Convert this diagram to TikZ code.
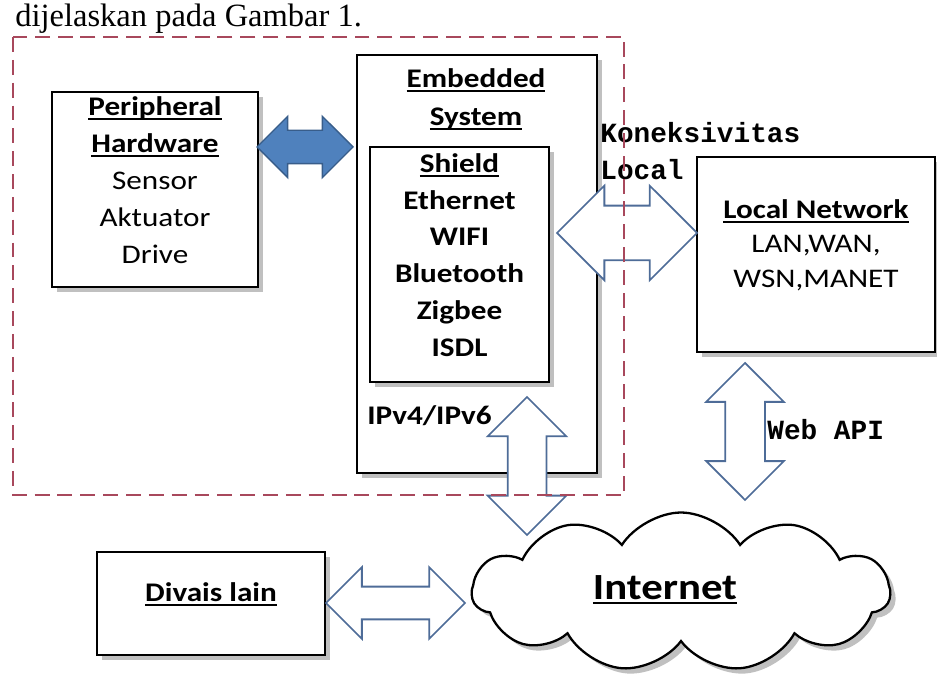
\documentclass[tikz,border=0pt]{standalone}
\usepackage{fontspec}
\setmainfont{Carlito}[FakeStretch=1.16]
\newfontfamily\codefont{Liberation Mono}
\newfontfamily\bodyfont{Liberation Serif}
\usetikzlibrary{positioning,fit,calc,shadows,shapes.symbols,shapes.arrows}

\definecolor{linkblue}{RGB}{79,129,189}
\definecolor{linkedge}{RGB}{56,93,138}
\definecolor{hollowedge}{RGB}{78,108,152}
\definecolor{groupred}{RGB}{168,72,92}

\newsavebox\undlbox
\newcommand{\undl}[1]{\sbox\undlbox{#1}\leavevmode\rlap{\rule[-2.6pt]{\wd\undlbox}{1.1pt}}\usebox\undlbox}

\newcommand{\linkarrow}[4]{%
  \path let \p1=(#3), \p2=(#4), \n1={veclen(\x2-\x1,\y2-\y1)} in
    node[#1, minimum height=\n1, rotate={atan2(\y2-\y1,\x2-\x1)}] (#2) at ($(\p1)!.5!(\p2)$) {};}

\tikzset{
  box/.style={draw=black, line width=1.3pt, fill=white, inner sep=0pt,
    drop shadow={shadow xshift=3pt, shadow yshift=-3pt, fill=black!45, opacity=.55}},
  boxtext/.style={font=\fontsize{15.3}{21}\selectfont, align=center},
  codetext/.style={font=\codefont\bfseries\fontsize{15.8}{21}\selectfont, inner sep=0pt, align=left},
  solidlink/.style={double arrow, draw=linkedge, fill=linkblue, line width=.8pt,
    inner sep=0pt, outer sep=0pt, double arrow head indent=0pt},
  hollowlink/.style={double arrow, draw=hollowedge, fill=white, line width=1pt,
    inner sep=0pt, outer sep=0pt, double arrow head indent=0pt},
  groupbox/.style={draw=groupred, line width=1.5pt, dash pattern=on 8.5pt off 4.5pt}
}

\begin{document}
\begin{tikzpicture}[x=0.02cm, y=-0.02cm]
\useasboundingbox (0,0) rectangle (937,675);

\node[anchor=base west, inner sep=0pt, font=\bodyfont\fontsize{18.5}{21}\selectfont] (caption) at (15,27) {dijelaskan pada Gambar 1.};

\node[box, boxtext, fit={(52,92) (258,287)}] (periph) {\textbf{\undl{Peripheral}}\\ \textbf{\undl{Hardware}}\\ Sensor\\ Aktuator\\ Drive};
\node[box, fit={(357,55) (597,473)}] (embedded) {};
\node[boxtext, font=\bfseries\fontsize{15.3}{21.5}\selectfont] (embtitle) at (476,99) {\undl{Embedded}\\ \undl{System}};
\node[box, boxtext, font=\bfseries\fontsize{15.3}{21}\selectfont, fit={(370,147) (549,382)}] (shield) {\undl{Shield}\\ Ethernet\\ WIFI\\ Bluetooth\\ Zigbee\\ ISDL};
\node[anchor=west, inner sep=0pt, font=\bfseries\fontsize{15.3}{18}\selectfont] (iplabel) at (367,416) {IPv4/IPv6};
\node[box, boxtext, font=\fontsize{15.3}{19.6}\selectfont, fit={(697,157) (935,352)}] (localnet) {\textbf{\undl{Local Network}}\\ LAN,WAN,\\ WSN,MANET};
\node[box, boxtext, fit={(97,552) (325,655)}] (divais) {\textbf{\undl{Divais lain}}};
\node[cloud, draw=black, line width=1.3pt, fill=white, cloud puffs=11, cloud puff arc=115, aspect=2.6,
  minimum width=8.36cm, minimum height=3.18cm, inner sep=0pt,
  drop shadow={shadow xshift=3pt, shadow yshift=-3pt, fill=black!45, opacity=.55}] (internet) at (681,592) {};
\node[font=\bfseries\fontsize{21}{24}\selectfont, inner sep=0pt] (nettext) at (665,590) {\undl{Internet}};

\coordinate (hw a) at (257,147);
\coordinate (hw b) at (353,147);
\coordinate (lc a) at (557,233);
\coordinate (lc b) at (697,233);
\coordinate (ip a) at (527,397);
\coordinate (ip b) at (527,535);
\coordinate (api a) at (745,363);
\coordinate (api b) at (745,500);
\coordinate (dv a) at (326,603);
\coordinate (dv b) at (465,603);

\linkarrow{solidlink, inner ysep=.32cm, double arrow head extend=.28cm}{hwlink}{hw a}{hw b}
\linkarrow{hollowlink, inner ysep=.53cm, double arrow head extend=.4cm}{locallink}{lc a}{lc b}
\linkarrow{hollowlink, inner ysep=.37cm, double arrow head extend=.4cm}{iplink}{ip a}{ip b}
\linkarrow{hollowlink, inner ysep=.38cm, double arrow head extend=.38cm}{apilink}{api a}{api b}
\linkarrow{hollowlink, inner ysep=.31cm, double arrow head extend=.39cm}{divlink}{dv a}{dv b}

\node[codetext, anchor=north west] (koneksi) at (600,122) {Koneksivitas\\Local};
\node[codetext, anchor=west] (webapi) at (767,430) {Web API};

\draw[groupbox] (13,37) rectangle (624,495);
\end{tikzpicture}
\end{document}
